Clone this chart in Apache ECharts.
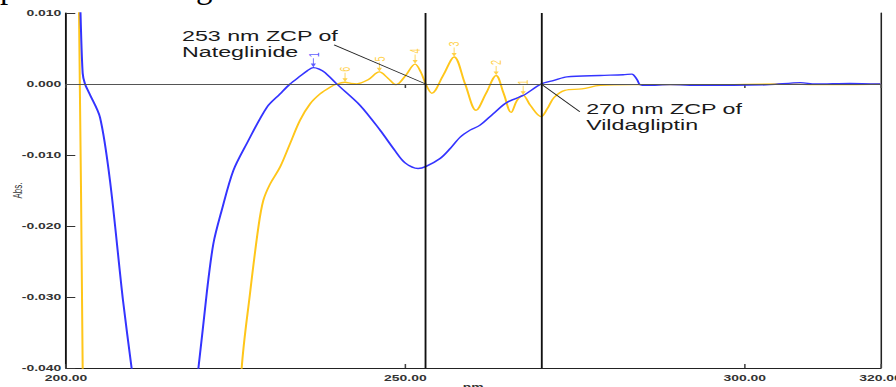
<!DOCTYPE html>
<html>
<head>
<meta charset="utf-8">
<script src="https://cdn.jsdelivr.net/npm/echarts@6/dist/echarts.min.js"></script>
<style>
  html, body { margin: 0; padding: 0; background: #fff; overflow: hidden; }
  #wrap { width: 896px; height: 387px; overflow: hidden; position: relative; }
  /* the spectrum is laid out narrow and then stretched horizontally */
  #chart { width: 578px; height: 387px; transform: scaleX(1.5502); transform-origin: 0 0; }
</style>
</head>
<body>
<div id="wrap"><div id="chart"></div></div>
<script>
// Wavelength axis (nm) and absorbance axis ranges
const xMin = 200, xMax = 320, xStep = 50;
const yMin = -0.04, yMax = 0.01, yStep = 0.01;

// Nateglinide derivative spectrum (blue)
const blueNm = [201.5, 202.14, 202.46, 202.8, 203.43, 205.01, 206.48, 208.4, 209.68, 211.5, 214.5, 217.5,
  219.5, 220.73, 221.71, 222.94, 224.65, 226.63, 229.58, 231.54, 233.01, 234.48, 235.6, 236.44, 237.3, 238.17,
  239.89, 243.32, 246.27, 248.48, 249.96, 251.87, 253.05, 255.11, 256.59, 258.06, 259.53, 261.0, 262.92,
  264.94, 267.38, 270.0, 271.9, 273.79, 278.69, 282.08, 283.36, 284.14, 284.58, 285.6, 289.0, 293.43,
  298.3, 303.7, 308.2, 310.4, 315.5, 320.0];
const blueAbs = [0.03, 0.0099, 0.0015, 0.0, -0.0013, -0.0047, -0.0136, -0.0305, -0.0401, -0.054, -0.061, -0.054,
  -0.0401, -0.0295, -0.0225, -0.0178, -0.0122, -0.0084, -0.0033, -0.0014, 0.0, 0.0011, 0.0019, 0.0023, 0.0021, 0.0016,
  0.0, -0.003, -0.0065, -0.0094, -0.0111, -0.0119, -0.0116, -0.0105, -0.0091, -0.0075, -0.0065, -0.0058, -0.0042,
  -0.0026, -0.0016, 0.0, 0.0005, 0.001, 0.0012, 0.0013, 0.0014, 0.0006, -0.0001, -0.0002, -0.0001, -0.0002,
  -0.0002, -0.0001, 0.0002, 0.0, 0.0001, 0.0];

// Vildagliptin derivative spectrum (yellow)
const yellowNm = [200.5, 201.92, 202.46, 203.5, 214.0, 224.5, 225.88, 227.11, 228.34, 229.07, 230.06, 231.54,
  233.01, 234.48, 235.96, 237.43, 238.9, 239.89, 241.11, 242.0, 242.84, 244.5, 246.17, 247.45, 248.63, 249.96,
  251.43, 252.31, 253.0, 253.89, 255.56, 257.18, 258.8, 260.42, 261.89, 263.37, 264.47, 265.58, 266.46, 267.35,
  268.4, 270.0, 270.9, 271.9, 273.5, 276.0, 278.69, 283.55, 295.0, 305.0, 312.0, 320.0];
const yellowAbs = [0.06, 0.0099, -0.0401, -0.09, -0.12, -0.065, -0.0401, -0.0295, -0.0202, -0.0164, -0.0141, -0.0117,
  -0.0084, -0.0051, -0.0028, -0.0014, -0.00045, 0.0, 0.00025, 0.0001, 0.00003, 0.0006, 0.0017, 0.0008, -0.0001, 0.0011,
  0.0028, 0.0016, 0.0, -0.0013, 0.0012, 0.0038, 0.0, -0.0037, -0.0013, 0.0012, -0.0013, -0.004, -0.0023, -0.0016,
  -0.003, -0.0046, -0.0035, -0.0019, -0.0009, -0.0007, -0.0002, -0.0001, -0.0001, 0.0, -0.0001, 0.0];

// Picked peaks (index into the series arrays) and their numbers
const bluePeakIdx = [23];
const bluePeakLabels = ['1'];
const yellowPeakIdx = [18, 22, 26, 31, 35, 39];
const yellowPeakLabels = ['6', '5', '4', '3', '2', '1'];

// Zero-crossing points and their callouts
const zcpNm = [253, 270];
const calloutText = ['253 nm ZCP of\nNateglinide', '270 nm ZCP of\nVildagliptin'];
const calloutFrom = [[239.5, 0.0055], [275.7, -0.0039]];

const BLUE = '#3434ff';
const YELLOW = '#ffc61a';

const zip = (xs, ys) => xs.map((x, i) => [x, ys[i]]);
const peaks = (xs, ys, idx, names) => idx.map((k, i) => ({ value: [xs[k], ys[k]], name: names[i] }));

const arrowPath = 'path://M2.1,0 L2.9,0 L2.9,6 L5,6 L2.5,10 L0,6 L2.1,6 Z';

function peakSeries(data, color) {
  return {
    type: 'scatter',
    data: data,
    symbol: arrowPath,
    symbolSize: [3.4, 9],
    symbolOffset: [0, -5],
    itemStyle: { color: color },
    silent: true,
    z: 4,
    label: {
      show: true,
      formatter: '{b}',
      position: 'top',
      distance: 1,
      rotate: 90,
      align: 'left',
      verticalAlign: 'middle',
      fontFamily: 'Liberation Sans',
      fontSize: 9,
      color: color
    }
  };
}

const axisFont = { fontFamily: 'Liberation Sans', fontSize: 9, fontWeight: 'bold', color: '#333' };

const chart = echarts.init(document.getElementById('chart'), null, { renderer: 'svg', width: 578, height: 387 });

chart.setOption({
  animation: false,
  backgroundColor: '#fff',
  grid: { left: 42.57, right: 10, top: 13, bottom: 19, containLabel: false, outerBoundsMode: 'none' },
  xAxis: [{
    type: 'value', min: xMin, max: xMax, interval: xStep,
    name: 'nm', nameLocation: 'middle', nameGap: 14, nameMoveOverlap: false,
    nameTextStyle: { fontFamily: 'Liberation Sans', fontSize: 9, fontWeight: 'bold', color: '#333', verticalAlign: 'top' },
    axisLine: { show: true, onZero: false, lineStyle: { color: '#222', width: 1 } },
    axisTick: { show: true, inside: true, length: 4, lineStyle: { color: '#444' } },
    axisLabel: Object.assign({ margin: 5, formatter: v => v.toFixed(2) }, axisFont),
    splitLine: { show: false }
  }, {
    type: 'value', position: 'top', min: xMin, max: xMax, interval: xStep,
    axisLine: { show: true, lineStyle: { color: '#222', width: 1 } },
    axisTick: { show: true, inside: true, length: 4, lineStyle: { color: '#444' } },
    axisLabel: { show: false },
    splitLine: { show: false }
  }],
  yAxis: [{
    type: 'value', min: yMin, max: yMax, interval: yStep,
    name: 'Abs.', nameLocation: 'middle', nameGap: 27, nameMoveOverlap: false,
    nameTextStyle: { fontFamily: 'Liberation Sans', fontSize: 8, color: '#333' },
    axisLine: { show: true, onZero: false, lineStyle: { color: '#111', width: 1.2 } },
    axisTick: { show: true, inside: true, length: 6, lineStyle: { color: '#333' } },
    axisLabel: Object.assign({ margin: 3, formatter: v => v.toFixed(3) }, axisFont),
    splitLine: { show: false }
  }, {
    type: 'value', position: 'right', min: yMin, max: yMax, interval: yStep,
    axisLine: { show: true, onZero: false, lineStyle: { color: '#222', width: 1 } },
    axisTick: { show: false }, axisLabel: { show: false }, splitLine: { show: false }
  }],
  series: [
    {
      name: 'Vildagliptin', type: 'line', data: zip(yellowNm, yellowAbs),
      showSymbol: false, smooth: 0.35, clip: true, z: 2,
      lineStyle: { color: YELLOW, width: 1.3 },
      markLine: {
        silent: true, symbol: 'none', label: { show: false },
        lineStyle: { color: '#555', width: 1, type: 'solid' },
        data: [{ yAxis: 0 }]
      }
    },
    {
      name: 'Nateglinide', type: 'line', data: zip(blueNm, blueAbs),
      showSymbol: false, smooth: 0.3, clip: true, z: 3,
      lineStyle: { color: BLUE, width: 1.3 },
      markLine: {
        silent: true, symbol: 'none', label: { show: false },
        data: zcpNm.map(v => ({ xAxis: v, lineStyle: { color: '#111', width: 1.2, type: 'solid' } }))
          .concat(zcpNm.map((v, i) => [
            { coord: calloutFrom[i], lineStyle: { color: '#222', width: 0.8, type: 'solid' } },
            { coord: [v, 0] }
          ]))
      }
    },
    peakSeries(peaks(yellowNm, yellowAbs, yellowPeakIdx, yellowPeakLabels), YELLOW),
    peakSeries(peaks(blueNm, blueAbs, bluePeakIdx, bluePeakLabels), BLUE)
  ],
  graphic: [
    {
      type: 'text', x: 117.4, y: 27.5, z: 10,
      style: { text: calloutText[0], font: '15px "Liberation Sans"', lineHeight: 16, fill: '#1a1a1a' }
    },
    {
      type: 'text', x: 378.1, y: 100.2, z: 10,
      style: { text: calloutText[1], font: '15px "Liberation Sans"', lineHeight: 16, fill: '#1a1a1a' }
    },
    {
      type: 'text', x: 0, y: -13, scaleX: 1 / 1.5502, z: 10,
      style: { text: 'presented in Figure 5.', font: '33px "Liberation Serif"', fill: '#000', verticalAlign: 'middle' }
    }
  ]
});
</script>
</body>
</html>
